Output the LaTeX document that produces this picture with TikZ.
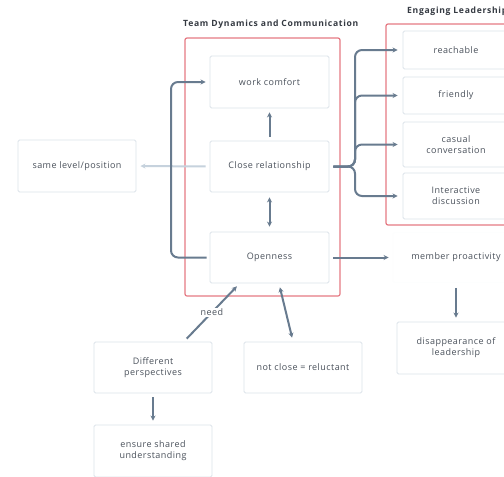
\documentclass[tikz,border=0pt]{standalone}
\usepackage{fontspec}
\setmainfont{Open Sans}
\newfontfamily\bodyfont[LetterSpace=5]{Open Sans}
\newfontfamily\titlefont[LetterSpace=8]{Open Sans}
\usetikzlibrary{arrows.meta}
\definecolor{boxline}{HTML}{DCE3EA}
\definecolor{arrowc}{HTML}{687B8F}
\definecolor{lightarr}{HTML}{C6D2DD}
\definecolor{redc}{HTML}{E57A84}
\definecolor{txt}{HTML}{4A515B}
\definecolor{titlec}{HTML}{353A42}
\tikzset{
  box/.style={draw=boxline, line width=0.9pt, rounded corners=1.5pt, fill=white,
    text=txt, font=\bodyfont\fontsize{9}{11}\selectfont, align=center, inner sep=2pt},
  cluster/.style={draw=redc, line width=1.2pt, rounded corners=2pt},
  ttl/.style={text=titlec, font=\titlefont\bfseries\fontsize{8.6}{10}\selectfont, inner sep=0pt},
  arr/.style={draw=arrowc, line width=2pt, -{Stealth[length=5pt,width=5pt]}},
  darr/.style={draw=arrowc, line width=2pt, {Stealth[length=5pt,width=5pt]}-{Stealth[length=5pt,width=5pt]}},
  larr/.style={draw=lightarr, line width=2pt, -{Stealth[length=5pt,width=5pt]}},
}
\begin{document}
\begin{tikzpicture}[x=1pt,y=-1pt]
\useasboundingbox (0,0) rectangle (504,477);
\clip (0,0) rectangle (504,477);
\fill[white] (0,0) rectangle (504,477);
% clusters
\draw[cluster] (185,38) rectangle (340,296);
\draw[cluster] (386,24) rectangle (520,225);
\node[ttl, anchor=west] (t1) at (183,24) {Team Dynamics and Communication};
\node[ttl, anchor=west] (t2) at (407,11) {Engaging Leadership};
% nodes
\node[box, minimum width=119pt, minimum height=52pt] (wc) at (269.5,82) {work comfort};
\node[box, minimum width=119pt, minimum height=51pt] (cr) at (269.5,166.5) {Close relationship};
\node[box, minimum width=119pt, minimum height=51pt] (op) at (269.5,257.5) {Openness};
\node[box, minimum width=118pt, minimum height=52pt] (sl) at (77,166) {same level/position};
\node[box, minimum width=106pt, minimum height=38pt] (re) at (456,50) {reachable};
\node[box, minimum width=106pt, minimum height=37pt] (fr) at (456,95.5) {friendly};
\node[box, minimum width=106pt, minimum height=45pt] (cc) at (456,144.5) {casual\\conversation};
\node[box, minimum width=106pt, minimum height=46pt] (id) at (456,196) {Interactive\\discussion};
\node[box, draw=white!95!boxline, minimum width=126pt, minimum height=50pt] (mp) at (456,257.5) {member proactivity};
\node[box, minimum width=118pt, minimum height=52pt] (dl) at (456,348) {disappearance of\\leadership};
\node[box, minimum width=118pt, minimum height=51pt] (dp) at (153,367.5) {Different\\perspectives};
\node[box, minimum width=118pt, minimum height=51pt] (nc) at (303,367.5) {not close = reluctant};
\node[box, minimum width=118pt, minimum height=52pt] (es) at (153,451) {ensure shared\\understanding};
% connectors
\draw[arr, shorten <=4pt, shorten >=4pt] (cr.north) -- (wc.south);
\draw[darr, shorten <=5pt, shorten >=5pt] (cr.south) -- (op.north);
\draw[larr, shorten <=4pt, shorten >=4pt] (cr.west) -- (sl.east);
\draw[arr, rounded corners=7pt, shorten <=3pt, shorten >=4pt] (op.west) -- (171,257.5) |- (wc.west);
\foreach \t in {re,fr,cc,id}
  \draw[arr, rounded corners=7pt, shorten <=4pt, shorten >=5pt] (cr.east) -- (355,166.5) |- (\t.west);
\draw[arr, shorten <=4pt, shorten >=4pt] (op.east) -- (mp.west);
\draw[arr, shorten <=5pt, shorten >=4pt] (mp.south) -- (dl.north);
\draw[arr, shorten <=4pt, shorten >=4pt] (dp.south) -- (es.north);
\draw[arr, shorten <=4pt, shorten >=4pt] (dp.40) -- node[fill=white, text=txt, font=\bodyfont\fontsize{9}{11}\selectfont, inner sep=1pt] (need) {need} (op.221);
\draw[darr, shorten <=4pt, shorten >=4pt] (op.-70) -- (nc.111);
\end{tikzpicture}
\end{document}
